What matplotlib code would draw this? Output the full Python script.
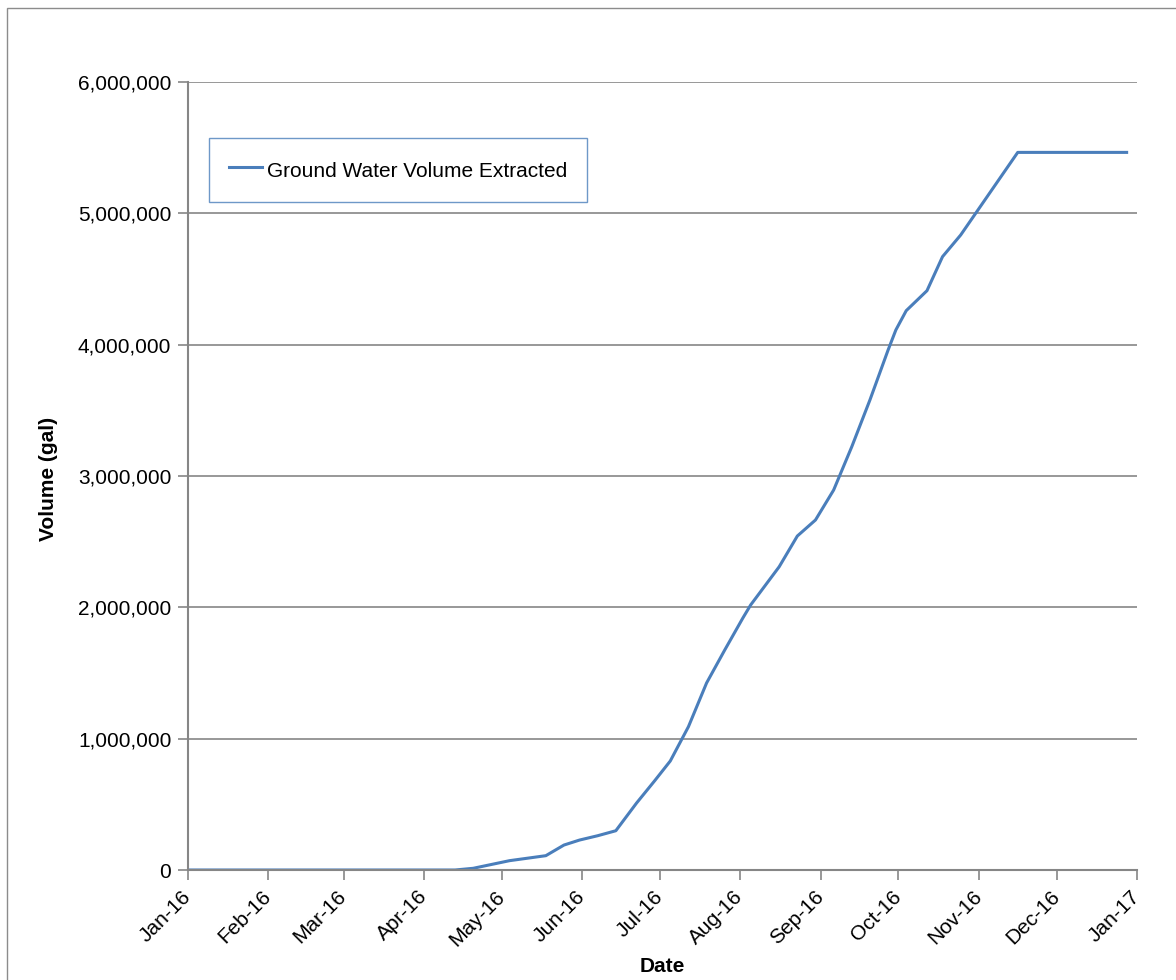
"""
Cumulative ground water volume extracted over 2016.
"""

import numpy as np
import matplotlib

matplotlib.use("Agg")
import matplotlib.pyplot as plt
import matplotlib.dates as mdates
from matplotlib.patches import Rectangle
from matplotlib.ticker import FuncFormatter

# reading dates and cumulative volume (gal)
dates = [
    "2016-01-01", "2016-04-13", "2016-04-20", "2016-05-04", "2016-05-18",
    "2016-05-25", "2016-05-31", "2016-06-07", "2016-06-14", "2016-06-22",
    "2016-06-29", "2016-07-05", "2016-07-12", "2016-07-19", "2016-07-26",
    "2016-08-02", "2016-08-05", "2016-08-16", "2016-08-23", "2016-08-30",
    "2016-09-06", "2016-09-13", "2016-09-20", "2016-09-27", "2016-09-30",
    "2016-10-04", "2016-10-12", "2016-10-18", "2016-10-25", "2016-11-16",
    "2016-12-28",
]
volume_gal = [
    0, 0, 13000, 71000, 109000,
    190000, 228000, 261000, 299000, 510000,
    680000, 830000, 1091000, 1424000, 1675000,
    1919000, 2018000, 2309000, 2543000, 2665000,
    2893000, 3223000, 3579000, 3959000, 4112000,
    4259000, 4411000, 4670000, 4835000, 5464000,
    5464000,
]
series_name = "Ground Water Volume Extracted"

W, H = 1176, 980
plt.rcParams["font.family"] = ["Liberation Sans", "DejaVu Sans"]
grey = "#868686"
blue = "#4A7EBB"

fig = plt.figure(figsize=(W / 100, H / 100), dpi=100)
fig.patches.append(
    Rectangle((7 / W, -0.05), 1.1, 1 - 8 / H + 0.05, transform=fig.transFigure,
              fill=False, edgecolor="#8c8c8c", lw=1.0)
)

ax = fig.add_axes([188 / W, 110 / H, (1137 - 188) / W, (870 - 82) / H])

x = np.array(dates, dtype="datetime64[D]")
ax.plot(x, volume_gal, color=blue, lw=2.2, label=series_name, solid_joinstyle="round")

ax.set_xlim(np.datetime64("2016-01-01"), np.datetime64("2017-01-01"))
ax.set_ylim(0, 6000000)
ax.set_yticks(np.arange(0, 6000001, 1000000))
ax.yaxis.set_major_formatter(FuncFormatter(lambda v, p: f"{v:,.0f}"))
ax.xaxis.set_major_locator(mdates.MonthLocator())
ax.xaxis.set_major_formatter(mdates.DateFormatter("%b-%y"))

ax.grid(axis="y", color=grey, lw=1.2)
ax.set_axisbelow(True)
for side in ["top", "right"]:
    ax.spines[side].set_visible(False)
for side in ["left", "bottom"]:
    ax.spines[side].set_color(grey)
    ax.spines[side].set_linewidth(1.5)

ax.tick_params(axis="both", color=grey, width=1.2, length=7, labelsize=15, pad=5)
for lbl in ax.get_xticklabels():
    lbl.set_rotation(45)
    lbl.set_ha("right")
    lbl.set_va("center")
    lbl.set_rotation_mode("anchor")
ax.tick_params(axis="x", pad=10)

ax.set_xlabel("Date", fontsize=15, fontweight="bold")
ax.xaxis.set_label_coords(0.5, -0.110)
ax.set_ylabel("Volume (gal)", fontsize=15, fontweight="bold")
ax.yaxis.set_label_coords(-0.137, 0.496)

leg = ax.legend(
    loc="upper left",
    bbox_to_anchor=(209 / W, 1 - 138 / H),
    bbox_transform=fig.transFigure,
    borderaxespad=0,
    fontsize=15,
    frameon=True,
    fancybox=False,
    borderpad=0.95,
    handlelength=1.6,
    handleheight=1.4,
    handletextpad=0.25,
)
leg.get_frame().set_edgecolor(blue)
leg.get_frame().set_linewidth(1.0)

fig.savefig("out.png", dpi=100)
